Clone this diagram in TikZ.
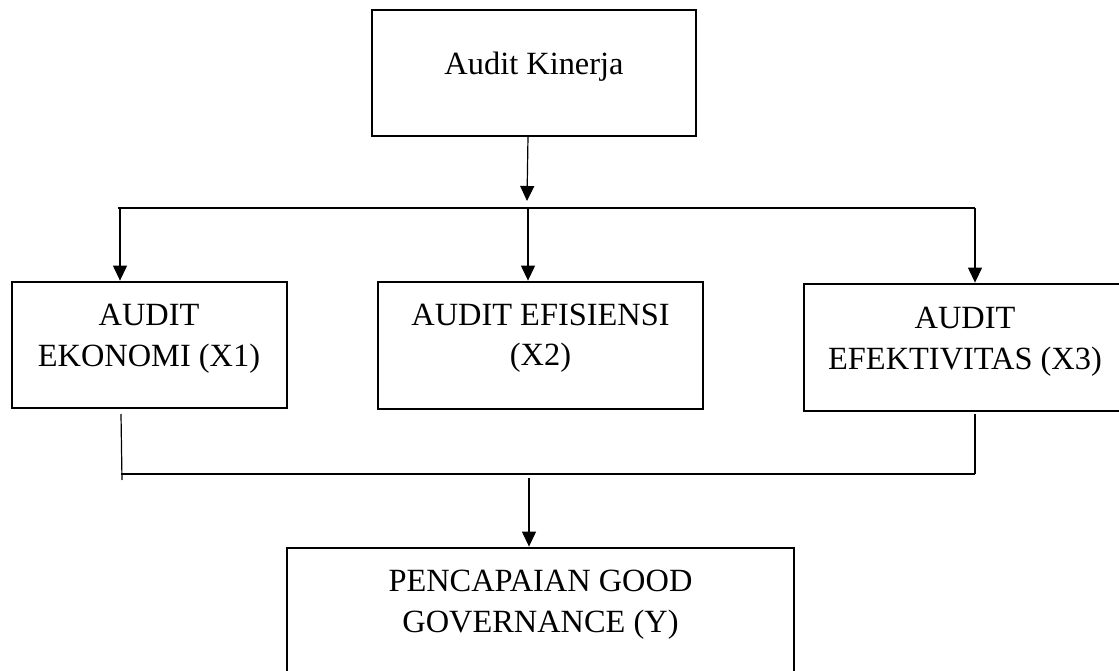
\documentclass[tikz,border=0pt]{standalone}
\usepackage{fontspec}
\setmainfont{Liberation Serif}
\usetikzlibrary{arrows.meta}

\tikzset{
  box/.style={draw=black, line width=2.8pt, rectangle, inner sep=0pt},
  lbl/.style={inner sep=0pt, align=center, font=\fontsize{32.4}{40.5}\selectfont},
  link/.style={draw=black, line width=1.2pt},
  arr/.style={link, -{Triangle[length=15pt,width=14pt]}}
}

\begin{document}
\begin{tikzpicture}[x=1pt,y=-1pt]
  \useasboundingbox (0,0) rectangle (1119,671);
  \clip (0,0) rectangle (1119,671);
  \fill[white] (0,0) rectangle (1119,671);

  % boxes
  \node[box, minimum width=324pt, minimum height=126pt] (ak)  at (534,73) {};
  \node[box, minimum width=275pt, minimum height=126pt] (eko) at (149.5,345) {};
  \node[box, minimum width=325pt, minimum height=127pt] (efi) at (540.5,345.5) {};
  \node[box, minimum width=322pt, minimum height=127pt] (efk) at (965,347.5) {};
  \node[box, minimum width=507pt, minimum height=128pt] (gg)  at (540.5,612) {};

  % labels
  \node[lbl] (akt)  at (534,67)    {Audit Kinerja};
  \node[lbl] (ekot) at (149,339)   {AUDIT\\EKONOMI (X1)};
  \node[lbl] (efit) at (540.5,338) {AUDIT EFISIENSI\\(X2)};
  \node[lbl] (efkt) at (965,342)   {AUDIT\\EFEKTIVITAS (X3)};
  \node[lbl] (ggt)  at (540.5,604.5) {PENCAPAIAN GOOD\\GOVERNANCE (Y)};

  % upper distribution bus
  \coordinate (akout) at (528,136);
  \coordinate (tipT)  at (527,201);
  \coordinate (busL)  at (118,208);
  \coordinate (busM)  at (528,208);
  \coordinate (busR)  at (975,208);
  \draw[arr]  (akout) -- (tipT);
  \draw[link] (busL) -- (busR);
  \draw[arr]  (busL -| 120,0) -- (120,208 |- eko.north);
  \draw[arr]  (busM) -- (busM |- efi.north);
  \draw[arr]  (busR) -- (busR |- efk.north);

  % lower collecting bus
  \coordinate (ekoout) at (121,414);
  \coordinate (ekoend) at (122,480);
  \coordinate (efkout) at (975,414);
  \coordinate (lowL)   at (121,474);
  \coordinate (lowR)   at (975,474);
  \coordinate (ggin)   at (529,478);
  \draw[link] (ekoout) -- (ekoend);
  \draw[link] (efkout) -- (lowR);
  \draw[link] (lowL) -- (lowR);
  \draw[arr]  (ggin) -- (ggin |- gg.north);
\end{tikzpicture}
\end{document}
